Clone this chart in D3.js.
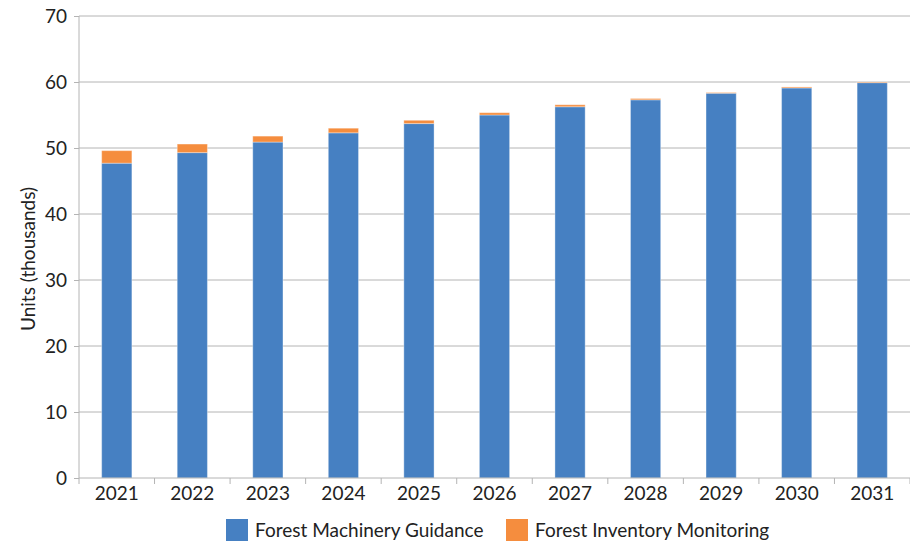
<!DOCTYPE html>
<html><head><meta charset="utf-8">
<script src="https://cdn.jsdelivr.net/npm/d3@7"></script>
<style>body{margin:0;background:#fff}svg{display:block;font-family:Lato,"Open Sans",sans-serif}</style>
</head><body><svg id="c" width="910" height="546"></svg>
<script>
const years = ["2021","2022","2023","2024","2025","2026","2027","2028","2029","2030","2031"];
const guidance = [47.7,49.3,50.9,52.3,53.7,55.0,56.25,57.3,58.3,59.1,59.9];
const inventory = [1.9,1.3,0.9,0.7,0.5,0.35,0.3,0.2,0.1,0.15,0.1];
const seriesNames = ["Forest Machinery Guidance","Forest Inventory Monitoring"];
const colors = ["#4680C2","#F58D3E"];
const yTicks = [0,10,20,30,40,50,60,70];

const svg = d3.select("#c");
const x = d3.scaleBand().domain(years).range([79,910]).padding(0);
const y = d3.scaleLinear().domain([0,70]).range([478,16]);
const grid = "#b4b4b4";
const fs = 19;

svg.append("g").selectAll("line").data(yTicks.filter(d=>d>0)).join("line")
  .attr("x1",79).attr("x2",910).attr("y1",d=>y(d)).attr("y2",d=>y(d))
  .attr("stroke",grid).attr("stroke-width",1);

const data = years.map((yr,i)=>({yr, g:guidance[i], o:inventory[i]}));
const bw = x.bandwidth()*0.4;
const gBars = svg.append("g");
data.forEach(d=>{
  const cx = x(d.yr)+x.bandwidth()/2;
  gBars.append("rect").attr("x",cx-bw/2).attr("width",bw)
    .attr("y",y(d.g)).attr("height",y(0)-y(d.g)).attr("fill",colors[0])
    .attr("stroke","rgba(255,255,255,0.35)").attr("stroke-width",1);
  gBars.append("rect").attr("x",cx-bw/2).attr("width",bw)
    .attr("y",y(d.g+d.o)).attr("height",y(d.g)-y(d.g+d.o)).attr("fill",colors[1])
    .attr("stroke","rgba(255,255,255,0.35)").attr("stroke-width",1);
});

// y axis
const ya = svg.append("g").attr("transform","translate(79,0)")
  .call(d3.axisLeft(y).tickValues(yTicks).tickSize(5).tickPadding(7));
ya.select(".domain").attr("stroke",grid).attr("d","M0,16V478");
ya.selectAll(".tick line").attr("stroke",grid);
ya.selectAll("text").attr("font-size",fs).attr("fill","#222").attr("font-family","Lato,sans-serif");

// x axis
const xa = svg.append("g").attr("transform","translate(0,478)")
  .call(d3.axisBottom(x).tickSize(0).tickPadding(9));
xa.select(".domain").attr("stroke",grid).attr("d","M79,0H910");
xa.selectAll("text").attr("font-size",fs).attr("fill","#222").attr("font-family","Lato,sans-serif");
svg.append("g").selectAll("line").data(years.concat(["end"])).join("line")
  .attr("x1",(d,i)=>79+i*x.step()).attr("x2",(d,i)=>79+i*x.step())
  .attr("y1",478).attr("y2",484).attr("stroke",grid);

svg.append("text").attr("transform","translate(35,259) rotate(-90)")
  .attr("text-anchor","middle").attr("font-size",fs).attr("fill","#222")
  .text("Units (thousands)");

// legend
const lx = [226,506];
seriesNames.forEach((n,i)=>{
  svg.append("rect").attr("x",lx[i]).attr("y",519).attr("width",22).attr("height",22).attr("fill",colors[i]);
  svg.append("text").attr("x",lx[i]+29).attr("y",537).attr("font-size",fs).attr("fill","#222").text(n);
});
</script></body></html>
